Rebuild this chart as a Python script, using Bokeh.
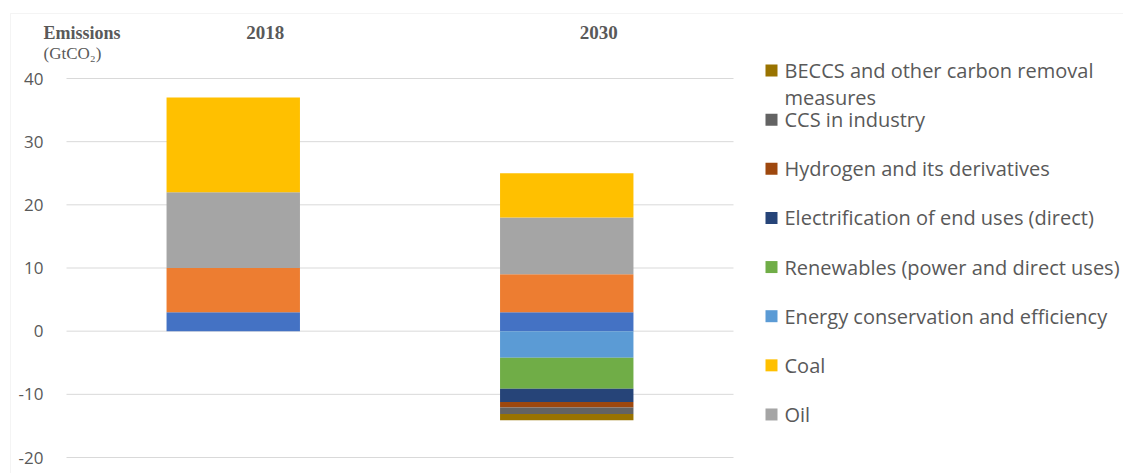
from bokeh.plotting import figure
from bokeh.models import Range1d, ColumnDataSource, BoxAnnotation
from bokeh.core.properties import value
from bokeh.embed import file_html
from bokeh.resources import INLINE

years = ["2018", "2030"]
# positive stack (bottom to top)
other = [3.0, 3.0]
gas = [7.0, 6.0]
oil = [12.0, 9.0]
coal = [15.0, 7.0]
# negative stack (from zero downwards)
efficiency = [0.0, -4.2]
renewables = [0.0, -4.9]
electrification = [0.0, -2.1]
hydrogen = [0.0, -0.9]
ccs = [0.0, -1.0]
beccs = [0.0, -1.0]

pos_keys = ["other", "gas", "oil", "coal"]
pos_colors = ["#4472C4", "#ED7D31", "#A5A5A5", "#FFC000"]
neg_keys = ["efficiency", "renewables", "electrification", "hydrogen", "ccs", "beccs"]
neg_colors = ["#5B9BD5", "#70AD47", "#264478", "#9E480E", "#636363", "#997300"]

legend_labels = {
    "beccs": "BECCS and other carbon removal\nmeasures",
    "ccs": "CCS in industry",
    "hydrogen": "Hydrogen and its derivatives",
    "electrification": "Electrification of end uses (direct)",
    "renewables": "Renewables (power and direct uses)",
    "efficiency": "Energy conservation and efficiency",
    "coal": "Coal",
    "oil": "Oil",
}
legend_order = ["beccs", "ccs", "hydrogen", "electrification", "renewables", "efficiency", "coal", "oil"]
yticks = [-20, -10, 0, 10, 20, 30, 40]
y_unit_label = ["Emissions", "(GtCO\u2082)"]

# ---- layout (pixel geometry of the canvas) ----
W, H = 1123, 473
BAR0_PX, BAND_PX = 232.75, 333.5          # centre of first category, category pitch
Y40_PX, YM20_PX = 78.0, 457.0             # pixel rows of the 40 and -20 gridlines
PX_PER_UNIT = (YM20_PX - Y40_PX) / 60.0


def px2x(px):
    return (px - BAR0_PX) / BAND_PX


def px2y(py):
    return 40.0 - (py - Y40_PX) / PX_PER_UNIT


xs = list(range(len(years)))
source = ColumnDataSource(dict(x=xs, other=other, gas=gas, oil=oil, coal=coal,
                               efficiency=efficiency, renewables=renewables,
                               electrification=electrification, hydrogen=hydrogen,
                               ccs=ccs, beccs=beccs))

p = figure(width=W, height=H, output_backend="svg", toolbar_location=None,
           x_range=Range1d(px2x(0), px2x(W)), y_range=Range1d(px2y(H), px2y(0)),
           x_axis_location=None, y_axis_location=None, min_border=0)
p.outline_line_color = None
p.background_fill_color = "white"
p.border_fill_color = "white"
p.xgrid.visible = False
p.ygrid.visible = False

GRAY_TXT = "#595959"
SANS = value("Open Sans")
SERIF = value("Liberation Serif")

# gridlines across the two category bands
band_lo, band_hi = -0.5, len(years) - 0.5
p.segment(x0=[band_lo] * len(yticks), x1=[band_hi] * len(yticks), y0=yticks, y1=yticks,
          line_color="#d9d9d9", line_width=1)

# y tick labels
p.text(x=[band_lo] * len(yticks), y=yticks, text=[str(t) for t in yticks],
       x_offset=-23, text_align="right", text_baseline="middle",
       text_font=SANS, text_font_size="17px", text_color=GRAY_TXT)

# bars
p.vbar_stack(pos_keys, x="x", width=0.4, color=pos_colors, source=source, line_color=None)
p.vbar_stack(neg_keys, x="x", width=0.4, color=neg_colors, source=source, line_color=None)

# headers
p.text(x=[px2x(43)], y=[px2y(32)], text=[y_unit_label[0]], text_align="left",
       text_baseline="middle", text_font=SERIF, text_font_style="bold",
       text_font_size="18px", text_color=GRAY_TXT)
p.text(x=[px2x(43)], y=[px2y(53)], text=[y_unit_label[1]], text_align="left",
       text_baseline="middle", text_font=SERIF, text_font_size="17px", text_color=GRAY_TXT)
p.text(x=xs, y=[px2y(32)] * len(years), text=years, x_offset=32, text_align="center",
       text_baseline="middle", text_font=SERIF, text_font_style="bold",
       text_font_size="19px", text_color=GRAY_TXT)

# legend (drawn as glyphs so the two-line label lines up like the original)
color_of = dict(zip(pos_keys, pos_colors))
color_of.update(dict(zip(neg_keys, neg_colors)))
LEG_TOP_PX, LEG_PITCH_PX, LINE_PX = 70.0, 49.14, 26.7
sq_x, sq_y, sq_c = [], [], []
tx, ty, tt = [], [], []
for i, k in enumerate(legend_order):
    cy = LEG_TOP_PX + i * LEG_PITCH_PX
    sq_x.append(px2x(771))
    sq_y.append(px2y(cy))
    sq_c.append(color_of[k])
    for j, line in enumerate(legend_labels[k].split("\n")):
        tx.append(px2x(784))
        ty.append(px2y(cy + j * LINE_PX))
        tt.append(line)
p.rect(x=sq_x, y=sq_y, width=12, height=12, width_units="screen", height_units="screen",
       fill_color=sq_c, line_color=None)
p.text(x=tx, y=ty, text=tt, text_align="left", text_baseline="middle",
       text_font=SANS, text_font_size="20px", text_color=GRAY_TXT)

# chart-area border (top and left edges visible)
p.add_layout(BoxAnnotation(left=px2x(10), right=px2x(W + 20), top=px2y(13), bottom=px2y(H + 20),
                           fill_color=None, line_color="#d9d9d9", line_width=1))

open("out.html", "w").write(file_html(p, INLINE))
